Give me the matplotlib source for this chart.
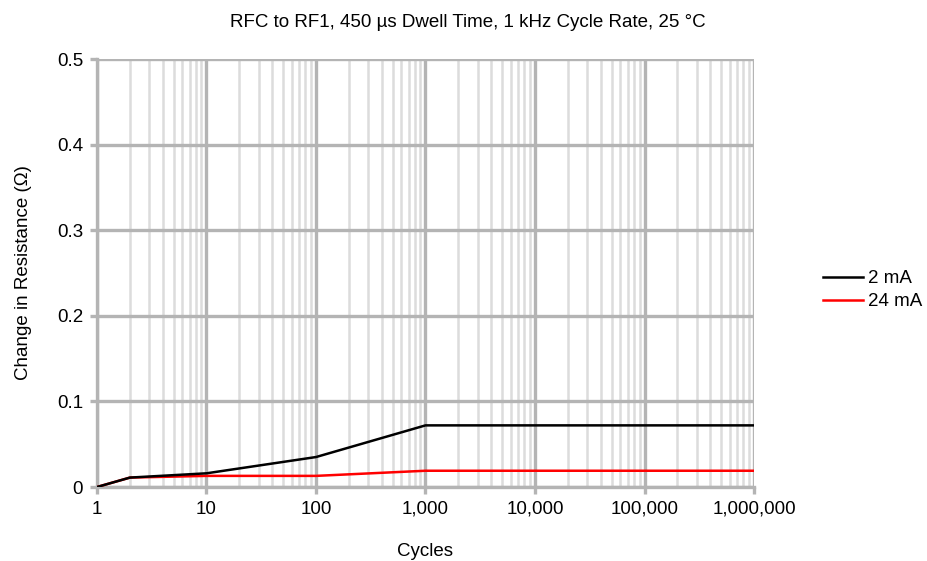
import numpy as np
import matplotlib.pyplot as plt
from matplotlib.ticker import LogLocator, FixedLocator, FuncFormatter, NullFormatter

plt.rcParams['font.family'] = ['Liberation Sans', 'DejaVu Sans']

cycles = [1, 2, 10, 100, 1000, 1000000]
res_2ma = [0.0, 0.011, 0.016, 0.035, 0.072, 0.072]
res_24ma = [0.0, 0.011, 0.013, 0.013, 0.019, 0.019]

fs = 13.5

fig = plt.figure(figsize=(9.27, 5.61), dpi=100)
ax = fig.add_axes([0.1046, 0.1319, 0.7088, 0.7629])

ax.plot(cycles, res_2ma, color='black', lw=1.8, label='2 mA', zorder=4)
ax.plot(cycles, res_24ma, color='#ff0000', lw=1.8, label='24 mA', zorder=3)

ax.set_xscale('log')
ax.set_xlim(1, 1e6)
ax.set_ylim(0, 0.5)

ax.xaxis.set_major_locator(LogLocator(base=10, numticks=10))
ax.xaxis.set_minor_locator(LogLocator(base=10, subs=np.arange(2, 10), numticks=100))
ax.xaxis.set_major_formatter(FuncFormatter(lambda v, p: f'{int(round(v)):,}'))
ax.xaxis.set_minor_formatter(NullFormatter())
ax.yaxis.set_major_locator(FixedLocator([0, 0.1, 0.2, 0.3, 0.4, 0.5]))
ax.yaxis.set_major_formatter(FuncFormatter(lambda v, p: '0' if v == 0 else f'{v:.1f}'))

ax.grid(which='major', color='#b4b4b4', lw=2.4)
ax.grid(which='minor', axis='x', color='#dcdcdc', lw=1.8)
ax.set_axisbelow(True)

for s in ax.spines.values():
    s.set_visible(False)
for side in ['left', 'bottom']:
    ax.spines[side].set_visible(True)
    ax.spines[side].set_color('#b4b4b4')
    ax.spines[side].set_linewidth(2.4)

ax.tick_params(which='major', length=5, width=2.4, color='#b4b4b4', labelsize=fs, pad=5)
ax.tick_params(which='minor', length=0)

ax.set_xlabel('Cycles', fontsize=fs, labelpad=18)
ax.set_ylabel('Change in Resistance (Ω)', fontsize=fs, labelpad=18)
fig.suptitle('RFC to RF1, 450 µs Dwell Time, 1 kHz Cycle Rate, 25 °C', fontsize=fs,
             x=0.505, y=0.975, va='top')

ax.legend(loc='center left', bbox_to_anchor=(1.08, 0.46), frameon=False, fontsize=fs,
          handlelength=2.1, handletextpad=0.3, labelspacing=0.3)

fig.savefig('out.png', dpi=100)
